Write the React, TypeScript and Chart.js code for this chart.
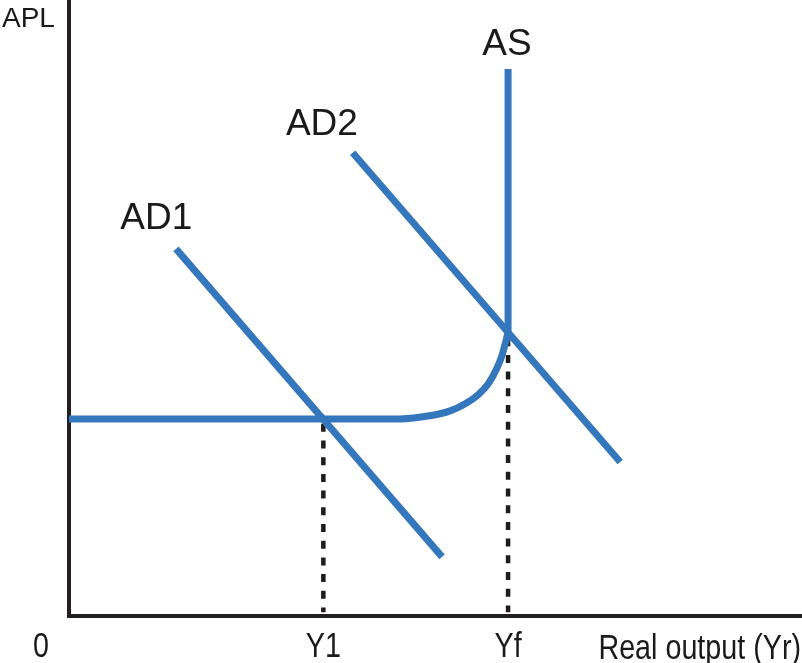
import React, { useEffect, useRef } from "react";
import { Chart, registerables } from "chart.js";

Chart.register(...registerables);

// Data (diagram units: 0..100 on both axes)
const Y1 = 34.7;
const YF = 59.9;
const AS_LEVEL = 32.0;
const AS_FLAT_X = [0, 45.2, 49.2, 52.0, 54.0, 55.8, 57.2, 58.3, 59.1, 59.6, 59.9];
const AS_FLAT_Y = [32.0, 32.0, 32.5, 33.3, 34.4, 35.9, 37.7, 40.0, 42.4, 44.6, 46.1];
const AS_VERTICAL_Y = [46.1, 88.8];
const AD1_X = [14.6, 50.9];
const AD1_Y = [59.6, 9.6];
const AD2_X = [38.7, 75.2];
const AD2_Y = [75.2, 25.0];
const CURVE_LABELS = ["AS", "AD2", "AD1"];
const CURVE_LABEL_X = [59.75, 34.5, 11.9];
const CURVE_LABEL_Y = [92.7, 79.7, 64.4];
const TICK_LABELS = ["Y1", "Yf"];
const TICK_VALUES = [Y1, YF];
const ORIGIN_LABEL = "0";
const X_TITLE = "Real output (Yr)";
const Y_TITLE = "APL";

const BLUE = "#3477bd";
const INK = "#1d1d1b";
const FONT = "'Liberation Sans', Arial, sans-serif";
const NARROW_FACTOR = 0.82;

const zip = (xs: number[], ys: number[]) => xs.map((x, i) => ({ x, y: ys[i] }));

function narrowText(ctx: CanvasRenderingContext2D, text: string, x: number, y: number) {
  ctx.save();
  ctx.translate(x, y);
  ctx.scale(NARROW_FACTOR, 1);
  ctx.fillText(text, 0, 0);
  ctx.restore();
}

export default function App() {
  const ref = useRef<HTMLCanvasElement | null>(null);

  useEffect(() => {
    if (!ref.current) return;

    const axesPlugin = {
      id: "axesPlugin",
      beforeDatasetsDraw(chart: any) {
        const { ctx, chartArea, scales } = chart;
        const x0 = scales.x.getPixelForValue(0);
        const y0 = scales.y.getPixelForValue(0);
        ctx.save();
        ctx.strokeStyle = "#231f20";
        ctx.lineWidth = 4;
        ctx.lineCap = "butt";
        ctx.beginPath();
        ctx.moveTo(x0, chartArea.top);
        ctx.lineTo(x0, y0 + 2);
        ctx.moveTo(x0 - 2, y0);
        ctx.lineTo(chart.width, y0);
        ctx.stroke();
        ctx.restore();
      },
      afterDatasetsDraw(chart: any) {
        const { ctx, scales } = chart;
        const x0 = scales.x.getPixelForValue(0);
        const y0 = scales.y.getPixelForValue(0);
        ctx.save();
        ctx.fillStyle = "#1a1a1a";
        ctx.textBaseline = "middle";
        ctx.textAlign = "center";
        ctx.font = `37px ${FONT}`;
        CURVE_LABELS.forEach((t, i) => {
          ctx.fillText(t, scales.x.getPixelForValue(CURVE_LABEL_X[i]), scales.y.getPixelForValue(CURVE_LABEL_Y[i]));
        });
        ctx.font = `35px ${FONT}`;
        TICK_LABELS.forEach((t, i) => {
          narrowText(ctx, t, scales.x.getPixelForValue(TICK_VALUES[i]), y0 + 31);
        });
        narrowText(ctx, ORIGIN_LABEL, x0 - 28, y0 + 31);
        ctx.textAlign = "right";
        narrowText(ctx, X_TITLE, chart.width - 1, y0 + 33);
        ctx.textAlign = "left";
        ctx.font = `28px ${FONT}`;
        ctx.fillText(Y_TITLE, 2, 19);
        ctx.restore();
      },
    };

    const lineBase = {
      type: "line" as const,
      showLine: true,
      pointRadius: 0,
      borderColor: BLUE,
      borderWidth: 7,
      fill: false,
      clip: false as any,
    };

    const chart = new Chart(ref.current, {
      type: "line",
      data: {
        datasets: [
          { ...lineBase, data: zip(AS_FLAT_X, AS_FLAT_Y), cubicInterpolationMode: "monotone" },
          { ...lineBase, data: zip([YF, YF], AS_VERTICAL_Y) },
          { ...lineBase, data: zip(AD1_X, AD1_Y) },
          { ...lineBase, data: zip(AD2_X, AD2_Y) },
          {
            ...lineBase,
            data: zip([Y1, Y1], [AS_LEVEL - 0.8, 0.6]),
            borderColor: INK,
            borderWidth: 4.5,
            borderDash: [8, 8.7],
          },
          {
            ...lineBase,
            data: zip([YF, YF], [AS_FLAT_Y[AS_FLAT_Y.length - 1] - 1.0, 0.6]),
            borderColor: INK,
            borderWidth: 4.5,
            borderDash: [8, 8.7],
          },
        ] as any,
      },
      options: {
        animation: false,
        responsive: false,
        events: [],
        layout: { padding: { left: 69, right: 0, top: 0, bottom: 47 } },
        plugins: { legend: { display: false }, tooltip: { enabled: false } },
        scales: {
          x: { type: "linear", min: 0, max: 100, display: false },
          y: { type: "linear", min: 0, max: 100, display: false },
        },
      },
      plugins: [axesPlugin],
    });
    return () => chart.destroy();
  }, []);

  return (
    <div style={{ position: "absolute", left: 0, top: 0, width: 802, height: 663, background: "#fff" }}>
      <canvas ref={ref} width={802} height={663} />
    </div>
  );
}
